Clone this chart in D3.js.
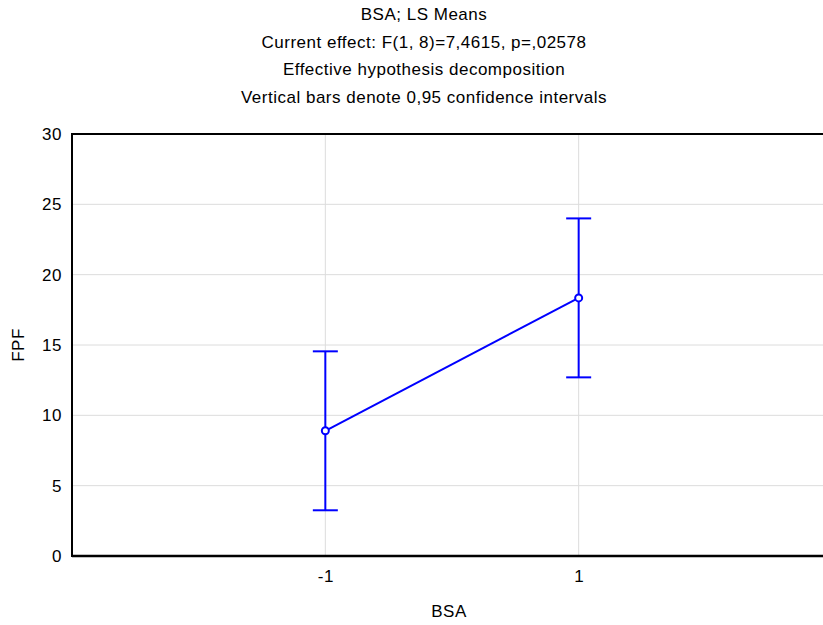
<!DOCTYPE html>
<html>
<head>
<meta charset="utf-8">
<script src="https://cdn.jsdelivr.net/npm/d3@7"></script>
<style>
  body { margin: 0; background: #fff; }
  svg { display: block; font-family: "Liberation Sans", Arial, sans-serif; }
  text { letter-spacing: 0.5px; }
</style>
</head>
<body>
<svg id="chart"></svg>
<script>
// values
const categories = ["-1", "1"];
const means = [8.9, 18.35];
const lower = [3.25, 12.7];
const upper = [14.55, 24.0];
const yTicks = [0, 5, 10, 15, 20, 25, 30];
const titleLines = [
    "BSA; LS Means",
    "Current effect: F(1, 8)=7,4615, p=,02578",
    "Effective hypothesis decomposition",
    "Vertical bars denote 0,95 confidence intervals"
];

const width = 823, height = 625;
const margin = { top: 134, right: -9, bottom: 69, left: 72 };
const innerW = width - margin.left - margin.right;
const innerH = height - margin.top - margin.bottom;
const fontSize = 17;

const svg = d3.select("#chart").attr("width", width).attr("height", height);

const x = d3.scalePoint().domain(categories).range([0, innerW]).padding(1);
const y = d3.scaleLinear().domain([0, 30]).range([innerH, 0]);

const g = svg.append("g").attr("transform", `translate(${margin.left},${margin.top})`);

// grid
g.selectAll(".hgrid")
    .data(yTicks.slice(1, -1))
    .join("line")
    .attr("x1", 0).attr("x2", innerW)
    .attr("y1", d => y(d)).attr("y2", d => y(d))
    .attr("stroke", "#dcdcdc").attr("stroke-width", 1);

g.selectAll(".vgrid")
    .data(categories)
    .join("line")
    .attr("x1", d => x(d)).attr("x2", d => x(d))
    .attr("y1", 0).attr("y2", innerH)
    .attr("stroke", "#dcdcdc").attr("stroke-width", 1);

// frame
g.append("line").attr("x1", 0).attr("x2", innerW).attr("y1", 0).attr("y2", 0)
    .attr("stroke", "#000").attr("stroke-width", 2);
g.append("line").attr("x1", 0).attr("x2", innerW).attr("y1", innerH).attr("y2", innerH)
    .attr("stroke", "#000").attr("stroke-width", 2.5);
g.append("line").attr("x1", 0).attr("x2", 0).attr("y1", -1).attr("y2", innerH + 1)
    .attr("stroke", "#000").attr("stroke-width", 2);

// y axis labels
const yAxis = g.append("g")
    .call(d3.axisLeft(y).tickValues(yTicks).tickSize(0).tickPadding(10));
yAxis.select(".domain").remove();
yAxis.selectAll("text").attr("font-size", fontSize).attr("fill", "#000")
    .attr("font-family", "Liberation Sans, Arial, sans-serif");

// x axis labels
const xAxis = g.append("g")
    .attr("transform", `translate(0,${innerH})`)
    .call(d3.axisBottom(x).tickSize(0).tickPadding(14));
xAxis.select(".domain").remove();
xAxis.selectAll("text").attr("font-size", fontSize).attr("fill", "#000")
    .attr("font-family", "Liberation Sans, Arial, sans-serif");

// error bars
const blue = "#0000ff";
const capW = 12.5;
categories.forEach((c, i) => {
    g.append("line")
        .attr("x1", x(c)).attr("x2", x(c))
        .attr("y1", y(lower[i])).attr("y2", y(upper[i]))
        .attr("stroke", blue).attr("stroke-width", 2);
    [lower[i], upper[i]].forEach(v => {
        g.append("line")
            .attr("x1", x(c) - capW).attr("x2", x(c) + capW)
            .attr("y1", y(v)).attr("y2", y(v))
            .attr("stroke", blue).attr("stroke-width", 2);
    });
});

// mean line
g.append("path")
    .datum(categories.map((c, i) => [x(c), y(means[i])]))
    .attr("d", d3.line())
    .attr("fill", "none")
    .attr("stroke", blue).attr("stroke-width", 2);

g.selectAll(".pt")
    .data(categories)
    .join("circle")
    .attr("cx", d => x(d))
    .attr("cy", (d, i) => y(means[i]))
    .attr("r", 3.5)
    .attr("fill", "#fff")
    .attr("stroke", blue).attr("stroke-width", 2);

// titles
svg.selectAll(".title")
    .data(titleLines)
    .join("text")
    .attr("x", 424)
    .attr("y", (d, i) => 20 + i * 27.7)
    .attr("text-anchor", "middle")
    .attr("font-size", fontSize)
    .text(d => d);

// axis titles
svg.append("text")
    .attr("x", 449).attr("y", 617)
    .attr("text-anchor", "middle")
    .attr("font-size", fontSize)
    .text("BSA");

svg.append("text")
    .attr("transform", `translate(24,${margin.top + innerH / 2}) rotate(-90)`)
    .attr("text-anchor", "middle")
    .attr("font-size", fontSize)
    .text("FPF");
</script>
</body>
</html>
